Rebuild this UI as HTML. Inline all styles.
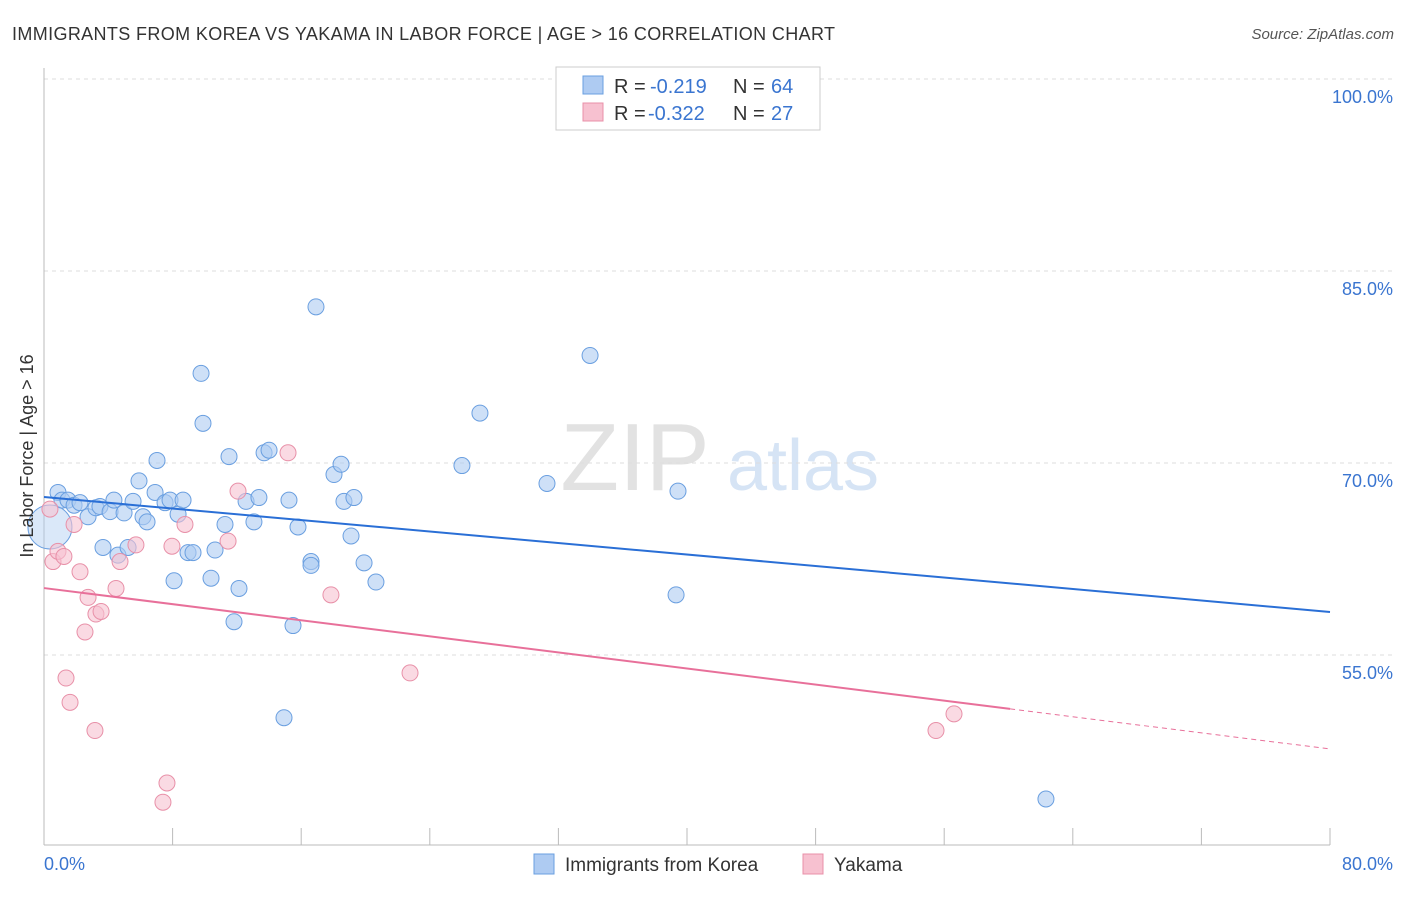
<!DOCTYPE html>
<html><head><meta charset="utf-8"><style>
body{margin:0;background:#fff;font-family:"Liberation Sans",sans-serif;}
svg text{font-family:"Liberation Sans",sans-serif;}
</style></head><body>
<svg id="chart" width="1406" height="892">
<text x="12" y="40" font-size="18" fill="#333" textLength="823" lengthAdjust="spacing">IMMIGRANTS FROM KOREA VS YAKAMA IN LABOR FORCE | AGE &gt; 16 CORRELATION CHART</text>
<text x="1394" y="39" font-size="15" fill="#555" font-style="italic" text-anchor="end">Source: ZipAtlas.com</text>
<g>
<text x="635" y="490" font-size="96" fill="#e2e2e2" text-anchor="middle" font-family="Liberation Serif, serif">ZIP</text>
<text x="803" y="490" font-size="72" fill="#d6e4f5" text-anchor="middle">atlas</text>
</g>
<g id="grid"></g>
<g id="axes"></g>
<g id="marks"></g>
<text transform="translate(33,456) rotate(-90)" font-size="18" fill="#333" text-anchor="middle">In Labor Force | Age &gt; 16</text>
<g>
<rect x="556" y="67" width="264" height="63" fill="#fff" stroke="#ccc"/>
<rect x="583" y="76" width="20" height="18" fill="#aecbf2" stroke="#6a9fe0"/>
<text x="614" y="93" font-size="20" fill="#333">R =</text>
<text x="650" y="93" font-size="20" fill="#3a75d0">-0.219</text>
<text x="733" y="93" font-size="20" fill="#333">N =</text>
<text x="771" y="93" font-size="20" fill="#3a75d0">64</text>
<rect x="583" y="103" width="20" height="18" fill="#f7c1d0" stroke="#e890a8"/>
<text x="614" y="120" font-size="20" fill="#333">R =</text>
<text x="648" y="120" font-size="20" fill="#3a75d0">-0.322</text>
<text x="733" y="120" font-size="20" fill="#333">N =</text>
<text x="771" y="120" font-size="20" fill="#3a75d0">27</text>
</g>
<g>
<rect x="534" y="854" width="20" height="20" fill="#aecbf2" stroke="#6a9fe0"/>
<text x="565" y="871" font-size="19" fill="#333">Immigrants from Korea</text>
<rect x="803" y="854" width="20" height="20" fill="#f7c1d0" stroke="#e890a8"/>
<text x="834" y="871" font-size="19" fill="#333">Yakama</text>
</g>
</svg>
<script>
const yTicks=[100,85,70,55];
const xTickLabels=["0.0%","80.0%"];
const koreaX=[0.37,0.87,1.12,1.49,1.87,2.24,2.74,3.23,3.48,3.67,4.11,4.35,4.60,4.98,5.23,5.54,5.91,6.16,6.41,6.91,7.03,7.53,7.84,8.09,8.34,8.65,8.96,9.27,9.77,9.89,10.39,10.64,11.26,11.51,11.82,12.13,12.57,13.06,13.37,13.69,14.0,15.24,14.93,15.49,15.80,16.61,16.61,16.92,18.04,18.48,18.66,19.10,19.28,19.91,20.65,26.0,27.12,31.29,33.97,39.44,39.32,62.33];
const koreaY=[65.0,67.7,67.1,67.1,66.7,66.9,65.8,66.5,66.6,63.4,66.2,67.1,62.8,66.1,63.4,67.0,68.6,65.8,65.4,67.7,70.2,66.9,67.1,60.8,66.0,67.1,63.0,63.0,77.0,73.1,61.0,63.2,65.2,70.5,57.6,60.2,67.0,65.4,67.3,70.8,71.0,67.1,50.1,57.3,65.0,62.3,62.0,82.2,69.1,69.9,67.0,64.3,67.3,62.2,60.7,69.8,73.9,68.4,78.4,67.8,59.7,43.75];
const yakX=[0.37,0.56,0.87,1.24,1.37,1.62,1.87,2.24,2.55,2.74,3.17,3.23,3.55,4.48,4.73,5.72,7.40,7.65,7.96,8.77,11.45,12.07,15.18,17.85,22.77,55.49,56.61];
const yakY=[66.4,62.3,63.1,62.7,53.2,51.3,65.2,61.5,56.8,59.5,49.1,58.2,58.4,60.2,62.3,63.6,43.5,45.0,63.5,65.2,63.9,67.8,70.8,59.7,53.6,49.1,50.4];
const koreaTrend=[67.34,58.36];
const yakTrend=[60.23,47.66];
const yakSolidEnd=60.1;
const X=v=>44+v*16.075, Y=v=>79+(100-v)*12.8;
const NS="http://www.w3.org/2000/svg";
function mk(parent,tag,attrs){const e=document.createElementNS(NS,tag);for(const k in attrs)e.setAttribute(k,attrs[k]);document.getElementById(parent).appendChild(e);return e;}
yTicks.forEach(t=>{
 const l=mk('grid','line',{x1:44,x2:1394,y1:Y(t),y2:Y(t),stroke:'#ddd','stroke-dasharray':'4,4'});
 
 
 const tx=mk('grid','text',{x:1393,y:Y(t)+24,'font-size':18,fill:'#3a75d0','text-anchor':'end'});
 tx.textContent=t.toFixed(1)+'%';
 
 
});
const ax=mk('axes','line',{x1:44,x2:44,y1:68,y2:845,stroke:'#bbb'});


const bx=mk('axes','line',{x1:44,x2:1330,y1:845,y2:845,stroke:'#bbb'});


for(let i=0;i<=10;i++){const tk=mk('axes','line',{x1:X(i*8),x2:X(i*8),y1:828,y2:845,stroke:'#bbb'});
 
 }
[[0,'start',44],[80,'end',1393]].forEach((d,i)=>{const t=mk('axes','text',{x:d[2],y:870,'font-size':18,fill:'#3a75d0','text-anchor':d[1]});t.textContent=xTickLabels[i];
 
 });
koreaX.forEach((x,i)=>{const c=mk('marks','circle',{cx:X(x),cy:Y(koreaY[i]),r:i==0?22:8,fill:'#aecbf2','fill-opacity':i==0?0.45:0.6,stroke:'#6a9fe0','stroke-width':1});
 
 });
yakX.forEach((x,i)=>{const c=mk('marks','circle',{cx:X(x),cy:Y(yakY[i]),r:8,fill:'#f7c1d0','fill-opacity':0.6,stroke:'#e890a8','stroke-width':1});
 
 });
const kt=mk('marks','line',{x1:X(0),y1:Y(koreaTrend[0]),x2:X(80),y2:Y(koreaTrend[1]),stroke:'#2a6fd6','stroke-width':2});


const ym=yakTrend[0]+(yakTrend[1]-yakTrend[0])*yakSolidEnd/80;
const yt=mk('marks','line',{x1:X(0),y1:Y(yakTrend[0]),x2:X(yakSolidEnd),y2:Y(ym),stroke:'#e8709a','stroke-width':2});


const yd=mk('marks','line',{x1:X(yakSolidEnd),y1:Y(ym),x2:X(80),y2:Y(yakTrend[1]),stroke:'#e8709a','stroke-width':1,'stroke-dasharray':'5,4'});


</script>
</body></html>
